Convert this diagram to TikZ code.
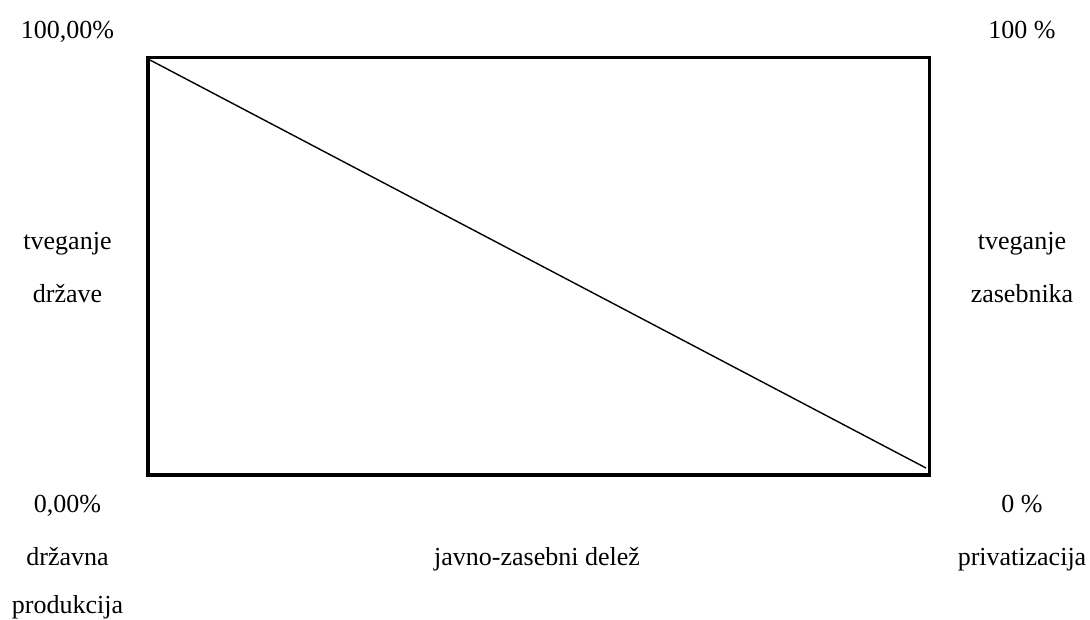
\documentclass[tikz,border=0pt]{standalone}
\usepackage{fontspec}
\setmainfont{Liberation Serif}
\begin{document}
\begin{tikzpicture}[x=1pt,y=-1pt,
  lbl/.style={anchor=base,inner sep=0pt,font=\fontsize{26}{30}\selectfont},
  frame/.style={line width=3.8pt},
  diag/.style={line width=1.4pt}]
\useasboundingbox[fill=white] (0,0) rectangle (1090,619);
\draw[frame] (148,57.5) rectangle (929.5,474.8);
\coordinate (s) at (150,60);
\coordinate (e) at (926,468);
\draw[diag] (s) -- (e);
\node[lbl] (tl) at (67.5,38) {100,00\%};
\node[lbl] (tr) at (1022,38) {100 \%};
\node[lbl] (l1) at (67.5,249) {tveganje};
\node[lbl] (l2) at (67.5,302) {države};
\node[lbl] (r1) at (1022,249) {tveganje};
\node[lbl] (r2) at (1022,302) {zasebnika};
\node[lbl] (bl) at (67.5,512) {0,00\%};
\node[lbl] (br) at (1022,512) {0 \%};
\node[lbl] (b1) at (67.5,565) {državna};
\node[lbl] (b2) at (67.5,613) {produkcija};
\node[lbl] (bm) at (537,565) {javno-zasebni delež};
\node[lbl] (bp) at (1022,565) {privatizacija};
\end{tikzpicture}
\end{document}
